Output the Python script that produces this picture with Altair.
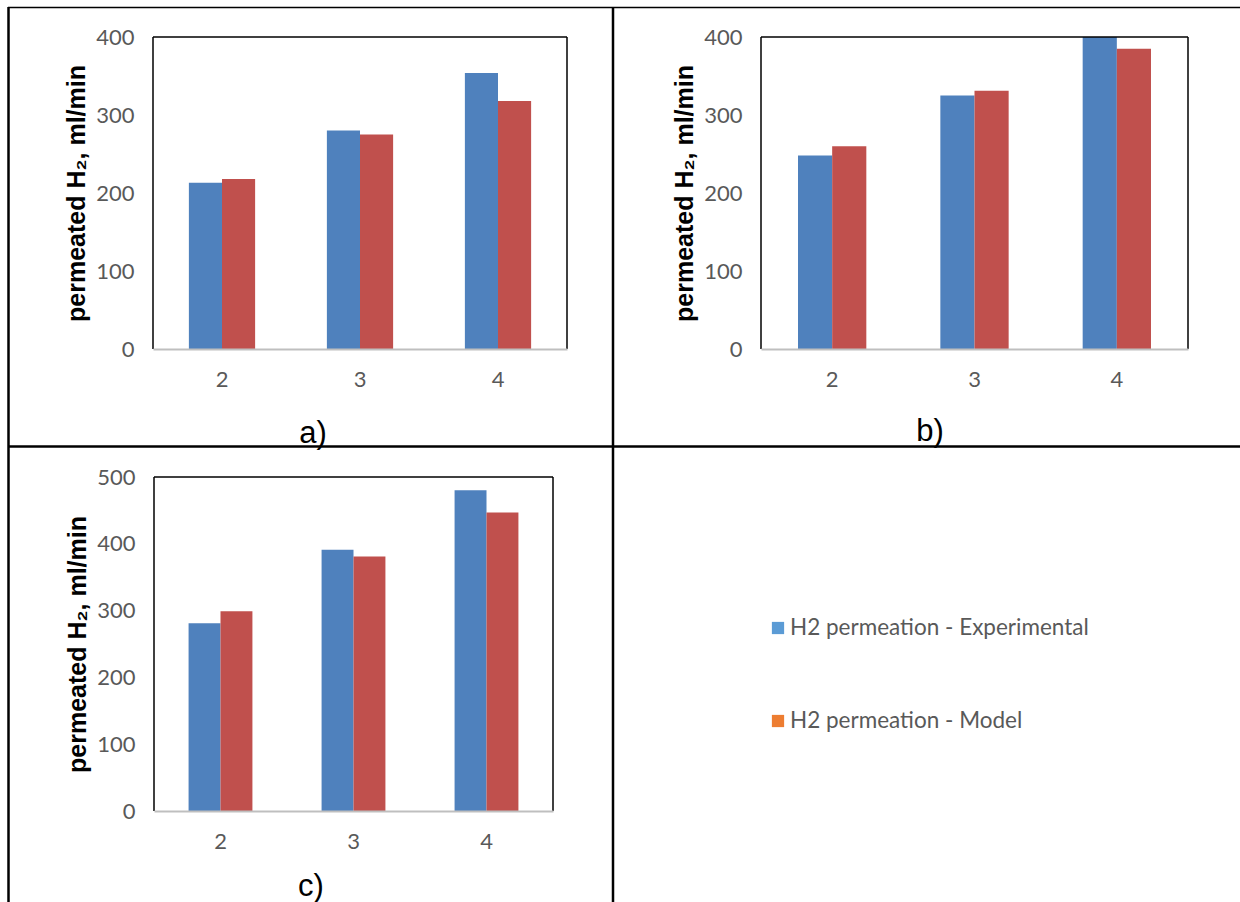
import altair as alt
import pandas as pd

# ---------------- data ----------------
categories = ["2", "3", "4"]
series_names = ["H2 permeation - Experimental", "H2 permeation - Model"]

a_exp = [213, 280, 354]
a_mod = [218, 275, 318]
b_exp = [248, 325, 400]
b_mod = [260, 331, 385]
c_exp = [281, 391, 480]
c_mod = [299, 381, 447]

ticks_ab = [0, 100, 200, 300, 400]
ticks_c = [0, 100, 200, 300, 400, 500]

bar_colors = ["#4F81BD", "#C0504D"]
legend_colors = ["#5B9BD5", "#ED7D31"]

y_title = "permeated H₂, ml/min"
captions = ["a)", "b)", "c)"]

W, H = 1240, 902
LABEL_FONT = "Lato"
LABEL_COLOR = "#595959"
TITLE_FONT = "Liberation Sans"


def frame(exp, mod):
    rows = []
    for c, e, m in zip(categories, exp, mod):
        rows.append({"cat": c, "series": series_names[0], "value": e})
        rows.append({"cat": c, "series": series_names[1], "value": m})
    return pd.DataFrame(rows)


one = alt.Data(values=[{"k": 1}])


def hline(x1, x2, y, color="black", w=1.5):
    return alt.Chart(one).mark_rule(color=color, strokeWidth=w).encode(
        x=alt.value(x1), x2=alt.value(x2), y=alt.value(y))


def vline(x, y1, y2, color="black", w=1.5):
    return alt.Chart(one).mark_rule(color=color, strokeWidth=w).encode(
        x=alt.value(x), y=alt.value(y1), y2=alt.value(y2))


def panel(df, left, right, top, bottom, ymax, ticks):
    x_axis = alt.Axis(orient="bottom", offset=bottom - H, title=None, labelAngle=0,
                      labelFont=LABEL_FONT, labelFontSize=22, labelColor=LABEL_COLOR,
                      labelPadding=20, ticks=False, tickSize=0,
                      domainColor="#BFBFBF", domainWidth=2, grid=False, zindex=1)
    y_axis = alt.Axis(orient="left", offset=-left, values=ticks, title=y_title,
                      titleFont=TITLE_FONT, titleFontSize=25, titleFontWeight="bold",
                      titleColor="black", titlePadding=6,
                      labelFont=LABEL_FONT, labelFontSize=22, labelColor=LABEL_COLOR,
                      labelPadding=19, ticks=False, tickSize=0, domain=False, grid=False)
    bars = alt.Chart(df).mark_bar().encode(
        x=alt.X("cat:N", sort=categories,
                scale=alt.Scale(domain=categories, range=[left, right],
                                paddingInner=0.52, paddingOuter=0.26),
                axis=x_axis),
        xOffset=alt.XOffset("series:N",
                            scale=alt.Scale(domain=series_names, paddingInner=0, paddingOuter=0)),
        y=alt.Y("value:Q", scale=alt.Scale(domain=[0, ymax], range=[bottom, top], nice=False),
                axis=y_axis),
        color=alt.Color("series:N", scale=alt.Scale(domain=series_names, range=bar_colors),
                        legend=None),
    )
    box = [hline(left, right, top), vline(left, top, bottom), vline(right, top, bottom)]
    return [bars] + box


def caption(text, x, y):
    return alt.Chart(one).mark_text(text=text, font=TITLE_FONT, fontSize=31,
                                    color="black", align="center",
                                    baseline="alphabetic").encode(
        x=alt.value(x), y=alt.value(y))


layers = []
layers += panel(frame(a_exp, a_mod), 153, 567, 37, 349, 400, ticks_ab)
layers += panel(frame(b_exp, b_mod), 761, 1188, 37, 349, 400, ticks_ab)
layers += panel(frame(c_exp, c_mod), 154, 553, 477, 811, 500, ticks_c)

layers += [caption(captions[0], 313, 443), caption(captions[1], 930, 441),
           caption(captions[2], 311, 896)]

# legend (manual, as in the reference)
leg_df = pd.DataFrame({"series": series_names})
leg_y = alt.Y("series:N", scale=alt.Scale(type="point", domain=series_names,
                                           range=[628, 721], padding=0), axis=None)
leg_sq = alt.Chart(leg_df).mark_square(size=150, opacity=1).encode(
    x=alt.value(778), y=leg_y,
    color=alt.Color("series:N", scale=alt.Scale(domain=series_names, range=legend_colors),
                    legend=None))
leg_tx = alt.Chart(leg_df).mark_text(align="left", baseline="middle", font=LABEL_FONT,
                                     fontSize=22.5, color=LABEL_COLOR).encode(
    x=alt.value(790), y=leg_y, text="series:N")
layers += [leg_sq, leg_tx]

# table borders
layers += [hline(8, W, 7.5, w=1.5), vline(8.5, 7, H, w=2.5), vline(613, 7, H, w=2.5),
           hline(8, W, 446.5, w=2.5)]

chart = alt.layer(*layers).resolve_scale(
    x="independent", y="independent", xOffset="independent", color="independent"
).resolve_axis(x="independent", y="independent").properties(
    width=W, height=H, padding=0, background="white",
    autosize=alt.AutoSizeParams(type="none")
).configure_view(stroke=None)

chart.save("out.html", embed_options={"renderer": "svg", "actions": False})
